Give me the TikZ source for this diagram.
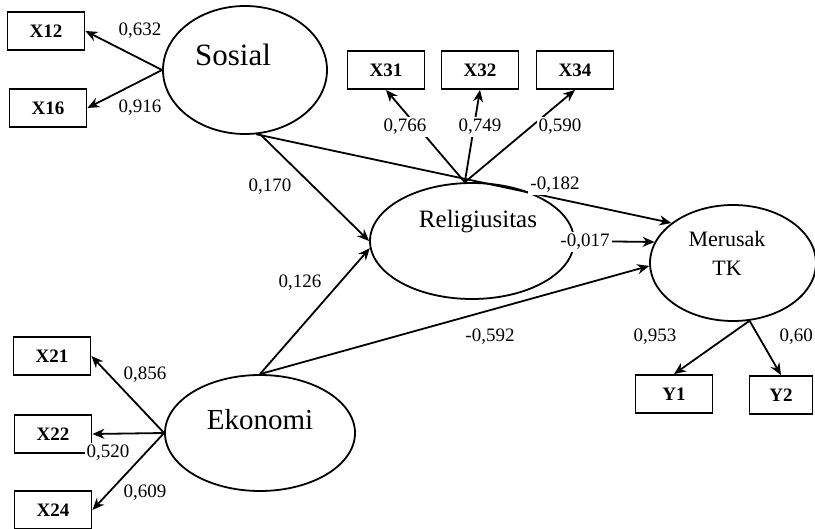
\documentclass[tikz,border=0pt]{standalone}
\usepackage{fontspec}
\setmainfont{Liberation Serif}
\usetikzlibrary{arrows.meta,shapes.geometric}

\begin{document}
\begin{tikzpicture}[
x=1pt,y=-1pt,
box/.style={
    rectangle,
    draw=black,
    line width=1.8pt,
    minimum width=77pt,
    minimum height=38pt,
    inner sep=0pt,
    font=\fontsize{19}{21}\selectfont\bfseries
},
latent/.style={
    ellipse,
    draw=black,
    line width=1.8pt,
    inner sep=0pt
},
coef/.style={fill=white,inner sep=2pt,font=\fontsize{19}{21}\selectfont},
arrow/.style={-{Stealth[length=12pt,width=10pt]},line width=1.8pt}
]
\useasboundingbox (0,0) rectangle (815,529);
\clip (0,0) rectangle (815,529);

% indicators
\node[box] (x12) at (46,31) {X12};
\node[box] (x16) at (48,108) {X16};
\node[box] (x31) at (386,70) {X31};
\node[box] (x32) at (480,70) {X32};
\node[box] (x34) at (575,70) {X34};
\node[box] (x21) at (52,356) {X21};
\node[box] (x22) at (53,434) {X22};
\node[box] (x24) at (53,510) {X24};
\node[box] (y1) at (674,394) {Y1};
\node[box,minimum width=63pt] (y2) at (781,395) {Y2};

% latent variables
\node[latent,minimum width=164pt,minimum height=128pt,
  label={[font=\fontsize{31}{33}\selectfont,xshift=-12pt,yshift=15pt]center:Sosial}] (sosial) at (245,70) {};
\node[latent,minimum width=204pt,minimum height=116pt,
  label={[font=\fontsize{25}{28}\selectfont,xshift=6pt,yshift=19pt]center:Religiusitas}] (religiusitas) at (472,241) {};
\node[latent,minimum width=190pt,minimum height=116pt,
  label={[font=\fontsize{29}{32}\selectfont,yshift=13pt]center:Ekonomi}] (ekonomi) at (260,433) {};
\node[latent,minimum width=166pt,minimum height=116pt,
  label={[font=\fontsize{22}{29}\selectfont,align=center,xshift=-6pt,yshift=10pt]center:Merusak\\TK}] (merusak) at (733,263) {};

% loadings
\draw[arrow] (sosial.west) -- (x12.east);
\draw[arrow] (sosial.west) -- (x16.east);
\draw[arrow] (religiusitas.97) -- (x31.south);
\draw[arrow] (religiusitas.97) -- (x32.south);
\draw[arrow] (religiusitas.97) -- (x34.south);
\draw[arrow] (ekonomi.west) -- (x21.east);
\draw[arrow] (ekonomi.west) -- (x22.east);
\draw[arrow] (ekonomi.west) -- (x24.east);
\draw[arrow] (merusak.-74) -- (y1.north);
\draw[arrow] (merusak.-74) -- (y2.north);

% paths
\draw[arrow] (sosial.-77) -- (religiusitas.west);
\draw[arrow] (sosial.-80) -- (merusak.147);
\draw[arrow] (ekonomi.north) -- (religiusitas.184);
\draw[arrow] (ekonomi.north) -- (merusak.182);
\draw[arrow] (religiusitas.east) -- (merusak.165);

% coefficients
\node[coef] (c632) at (140,31) {0,632};
\node[coef] (c916) at (140,108) {0,916};
\node[coef] (c766) at (405,127) {0,766};
\node[coef] (c749) at (480,127) {0,749};
\node[coef] (c590) at (560,127) {0,590};
\node[coef] (c856) at (145,375) {0,856};
\node[coef] (c520) at (108,453) {0,520};
\node[coef] (c609) at (145,493) {0,609};
\node[coef] (c953) at (655,337) {0,953};
\node[coef,anchor=east,inner sep=1pt] (c60) at (814,337) {0,60};
\node[coef] (c170) at (270,187) {0,170};
\node[coef] (c126) at (300,283) {0,126};
\node[coef] (c182) at (555,185) {-0,182};
\node[coef] (c017) at (585,242) {-0,017};
\node[coef] (c592) at (490,337) {-0,592};

\end{tikzpicture}
\end{document}
